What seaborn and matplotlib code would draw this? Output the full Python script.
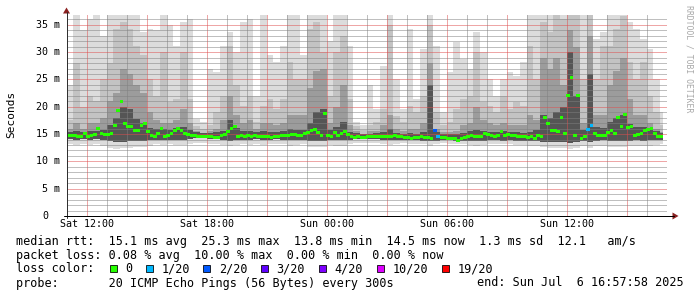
import numpy as np
import pandas as pd
import matplotlib
matplotlib.use("Agg")
import matplotlib.pyplot as plt
import seaborn as sns
from matplotlib.lines import Line2D
from matplotlib.patches import Polygon, Rectangle
from matplotlib.path import Path
from matplotlib.ticker import MultipleLocator

# ---------------- data (time in hours since Sat 00:00) ----------------
MEDIAN_START_H = 11.0
MEDIAN_STEP_H = 1 / 6        # 10 minutes
SMOKE_START_H = 11.0
SMOKE_STEP_H = 1 / 3         # 20 minutes
DATA_END_H = 40.833
VIEW_START_H = 11.0
VIEW_END_H = 41.0
Y_MAX_MS = 36.8

median_ms = [
    14.8, 14.8, 14.7, 14.6, 14.5, 15.1, 14.5, 14.7, 15.0, 16.0,
    15.1, 15.0, 14.9, 15.1, 16.6, 19.4, 20.9, 16.9, 16.3, 16.4,
    15.7, 15.7, 16.6, 16.9, 15.4, 14.8, 14.6, 15.1, 16.0, 14.5,
    14.8, 15.1, 15.7, 16.0, 15.6, 15.1, 14.9, 14.8, 14.7, 14.6,
    14.5, 14.6, 14.6, 14.5, 14.4, 14.4, 14.7, 15.0, 15.4, 16.0,
    16.3, 14.6, 14.8, 14.6, 14.7, 14.6, 14.8, 14.6, 14.5, 14.6,
    14.5, 14.4,
    14.5, 14.5, 14.7, 14.7, 14.7, 15.0, 15.0, 14.8, 14.8, 15.1,
    15.3, 15.6, 15.8, 15.2, 14.8, 18.8, 14.8, 14.6, 15.2, 14.8,
    15.1, 15.4, 15.0, 14.5, 14.4, 14.5, 14.4, 14.4, 14.5, 14.6,
    14.5, 14.5, 14.6, 14.5, 14.5, 14.6, 14.8, 14.6, 14.5, 14.4,
    14.4, 14.2, 14.3, 14.4, 14.5, 14.4, 14.4, 14.2, 15.7, 14.5,
    14.3, 14.3, 14.2, 14.2, 14.1, 13.8, 14.2, 14.3, 14.5, 14.7,
    14.6,
    14.5, 14.6, 15.1, 15.0, 14.8, 14.5, 14.8, 15.4, 14.8, 15.0,
    14.8, 14.8, 14.6, 14.6, 14.5, 14.4, 14.5, 14.2, 14.8, 14.6,
    18.1, 16.9, 15.7, 15.6, 15.4, 18.1, 15.1, 22.1, 25.3, 14.8,
    22.1, 14.2, 14.5, 15.9, 16.6, 15.1, 14.8, 14.8, 14.8, 15.2,
    15.6, 15.1, 18.1, 16.3, 18.6, 16.2, 16.3, 14.8, 15.0, 15.1,
    15.7, 15.8, 16.0, 15.1, 14.6, 14.5,
]
# lost pings (out of 20) at given median step index
loss_events = {110: 2, 111: 1, 156: 1, 157: 1}

# smoke envelope (ms), one value per 20-minute column
smoke_max = [
    23.9, 37, 34, 36, 37, 33, 37, 37, 37, 37,
    37, 33.6, 34.3, 34, 37, 34.9, 31.2, 35.5, 36.1, 17.8,
    17.2, 26.9, 26.3, 31.2, 33.6, 30.0, 35.5, 36.1, 22.0, 37,
    29.4, 28.2, 31.2, 37, 37, 29.4, 37, 37, 37, 32,
    37, 37, 31.2, 17.2, 16.6, 23.9, 19.6, 27.5, 37, 25.1,
    19.6, 34.3, 21.4, 30.6, 37, 31.2, 19.0, 26.3, 31.8, 28.8,
    26.9, 33.6, 30.0, 25.1, 22.0, 25.1, 26.3, 25.7, 28.2, 37,
    37, 37, 37, 37, 37, 37, 37, 37, 37, 32.4,
    33.6, 37, 37, 37, 35.5, 34.3, 32.4, 30.6, 25.1, 19.0,
]
smoke_hi = [
    17.5, 28, 20, 22, 21, 25, 28, 34.3, 35.5, 34.3,
    31.2, 29.4, 25.1, 22.0, 30.0, 20.8, 21.4, 30.0, 21.4, 16.5,
    16.0, 16.6, 19.0, 22.0, 31.2, 23.9, 20.2, 22.0, 17.2, 20.2,
    21.4, 19.6, 21.4, 28.2, 25.1, 25.1, 34.3, 35.5, 30.0, 22.0,
    30.0, 33.0, 21.4, 16.5, 15.8, 16.6, 17.2, 19.6, 35.0, 18.4,
    17.2, 20.2, 19.0, 22.0, 35.0, 19.0, 16.6, 17.2, 19.6, 21.4,
    22.0, 30.0, 20.8, 20.2, 19.0, 22.0, 19.6, 20.8, 20.2, 31.2,
    25.1, 35.5, 33.6, 37, 36.1, 37, 37, 25.1, 37, 25.1,
    31.2, 31.2, 34.3, 36.7, 28.2, 25.1, 28.2, 22.0, 19.0, 16.6,
]
smoke_mid = [
    16, 17, 16, 17, 17, 18, 21, 22.5, 27, 26,
    24, 22.5, 19.0, 17.5, 17, 17, 17.5, 19.5, 17.0, 15.5,
    15.2, 15.5, 16, 17.5, 22.0, 18.5, 17.0, 17.5, 15.9, 17,
    17.0, 16.6, 17.0, 18.5, 18.5, 18.5, 23.5, 26.5, 27.0, 17.0,
    20.0, 24.0, 16.6, 15.5, 15.0, 15.6, 15.6, 16.6, 18.5, 15.9,
    15.6, 15.9, 15.9, 17.0, 28.0, 15.9, 15.3, 15.3, 15.6, 16.6,
    17.0, 20.0, 17.5, 17.0, 16.6, 17.0, 16.6, 16.6, 16.6, 18.5,
    17.5, 29.0, 27.0, 29.0, 24.0, 34.0, 31.0, 17.0, 33.0, 18.5,
    18.5, 24.0, 26.5, 29.0, 21.5, 18.5, 18.5, 17.0, 15.9, 15.3,
]
smoke_core = [
    15.4, 15.5, 15.4, 15.6, 15.5, 15.8, 16.6,
    18.0, 20.0, 19.5, 17.8, 17.0, 16.2,
    15.9, 16.0, 15.7, 16.2, 16.3, 15.7, 15.3, 15.2, 15.2, 15.3, 15.5,
    17.5,
    16.2, 15.5, 15.5, 15.3, 15.5, 15.4, 15.3, 15.5, 15.9, 15.7, 15.7,
    17.0, 19.0, 19.5, 15.7, 16.3, 17.2,
    15.3, 15.2, 15.1, 15.1, 15.2, 15.4, 15.9, 15.2, 15.1, 15.2, 15.1, 15.3,
    24.0,
    15.3, 15.1, 15.0, 15.1, 15.2, 15.5, 15.7, 15.5, 15.4, 15.4, 15.5, 15.3,
    15.3, 15.2, 15.4, 15.7,
    18.5, 18.0, 19.0, 20.0, 30.0, 22.0, 15.7, 26.0, 16.3, 16.2, 17.2, 18.0,
    18.5, 16.8, 16.3, 16.3, 15.9, 15.5, 15.2,
]
smoke_low = [
    14.1, 14.0, 14.1, 14.0, 14.1,
    13.9, 13.7, 13.6, 13.6, 13.7, 13.8, 13.8, 13.9,
    14.0, 14.0, 14.0, 14.0, 14.0, 14.1, 14.2, 14.2, 14.1, 14.1, 14.0,
    13.8, 14.0, 14.0, 14.0, 14.1, 14.0, 14.0, 14.1, 14.0, 13.9, 14.0, 14.0,
    13.8, 13.7, 13.7, 14.0, 13.9, 13.9, 14.0, 14.1, 14.1,
    14.1, 14.1, 14.0, 13.9, 14.0, 14.0, 13.9, 13.9, 13.8,
    13.7, 13.8, 13.9, 13.9, 13.8, 13.8, 13.7, 13.7, 13.8, 13.9, 13.9, 13.8,
    13.9, 13.8, 13.8,
    13.8, 13.8, 13.6, 13.6, 13.5, 13.6, 13.4, 13.6, 13.8, 13.6, 13.8, 13.9,
    13.8, 13.7, 13.7, 13.8, 13.9, 13.8, 13.9, 13.9, 14.0,
]
smoke_min = [
    13.2, 13.0, 13.1, 13.0, 13.1,
    12.8, 12.5, 12.3, 12.4, 12.5, 12.6, 12.7, 12.9,
    13.1, 13.0, 13.1, 13.0, 13.0, 13.2, 13.3, 13.3, 13.2, 13.1, 13.0,
    12.8, 13.0, 13.1, 13.0, 13.2, 13.0, 13.1, 13.2, 13.1, 12.9, 13.0, 13.1,
    12.7, 12.6, 12.6, 13.0, 12.9, 12.8, 13.1, 13.3, 13.4,
    13.3, 13.3, 13.2, 13.0, 13.2, 13.3, 13.1, 13.2, 13.1,
    12.9, 13.1, 13.3, 13.2, 13.1, 13.1, 13.0, 12.9, 13.0, 13.1, 13.2, 13.1,
    13.1, 13.0, 13.0,
    12.9, 12.8, 12.6, 12.5, 12.4, 12.5, 12.3, 12.5, 12.8, 12.5, 12.8, 12.9,
    12.7, 12.6, 12.6, 12.8, 12.9, 12.8, 12.9, 13.0, 13.2,
]

x_tick_hours = [12, 18, 24, 30, 36]
x_tick_labels = ["Sat 12:00", "Sat 18:00", "Sun 00:00", "Sun 06:00", "Sun 12:00"]
y_tick_values = [0, 5, 10, 15, 20, 25, 30, 35]
y_tick_labels = ["0", "5 m", "10 m", "15 m", "20 m", "25 m", "30 m", "35 m"]

loss_levels = [0, 1, 2, 3, 4, 10, 19]
loss_labels = ["0", "1/20", "2/20", "3/20", "4/20", "10/20", "19/20"]
loss_colors = ["#26ff00", "#00b8ff", "#0059ff", "#5e00ff", "#7e00ff", "#dd00ff", "#ff0000"]

rtt_line = "median rtt:  15.1 ms avg  25.3 ms max  13.8 ms min  14.5 ms now  1.3 ms sd  12.1   am/s"
loss_line = "packet loss: 0.08 % avg  10.00 % max  0.00 % min  0.00 % now"
color_title = "loss color:"
probe_line = "probe:       20 ICMP Echo Pings (56 Bytes) every 300s"
end_line = "end: Sun Jul  6 16:57:58 2025"
y_title = "Seconds"
watermark = "RRDTOOL / TOBI OETIKER"

# ---------------- styling ----------------
sns.set_theme(style="white")
plt.rcParams["font.family"] = ["DejaVu Sans Mono", "DejaVu Sans"]
plt.rcParams["axes.unicode_minus"] = False

W, H, DPI = 697, 297, 100
PX2PT = 72 / DPI
fig = plt.figure(figsize=(W / DPI, H / DPI), dpi=DPI)
fig.patch.set_facecolor("white")

AX_L, AX_R, AX_T, AX_B = 66.5, 666.5, 15.0, 216.0
ax = fig.add_axes([AX_L / W, 1 - AX_B / H, (AX_R - AX_L) / W, (AX_B - AX_T) / H])
ax.set_facecolor("white")


def fx(x):
    return x / W


def fy(y):
    return 1 - y / H


# smoke bands
n_s = len(smoke_max)
edges = np.append(SMOKE_START_H + np.arange(n_s) * SMOKE_STEP_H, DATA_END_H)


def ext(a):
    a = np.asarray(a, float)
    return np.append(a, a[-1])


bands = [
    (smoke_min, smoke_max, "#dcdcdc"),
    (smoke_low, smoke_hi, "#c3c3c3"),
    (smoke_low, smoke_mid, "#9c9c9c"),
    (smoke_low, smoke_core, "#555555"),
]
for lo, hi, col in bands:
    ax.fill_between(edges, ext(lo), ext(hi), step="post", color=col,
                    linewidth=0, antialiased=False, zorder=1)

# median with loss colours (short horizontal bars, one per step)
n_m = len(median_ms)
t_start = MEDIAN_START_H + np.arange(n_m) * MEDIAN_STEP_H
loss = np.zeros(n_m, dtype=int)
for idx, cnt in loss_events.items():
    loss[idx] = cnt
df = pd.DataFrame({"t": t_start + MEDIAN_STEP_H / 2, "median": median_ms, "loss": loss})
pal_all = dict(zip(loss_levels, loss_colors))
pal = {k: pal_all[k] for k in sorted(df["loss"].unique())}
bar_marker = Path([(-1, -0.8), (1, -0.8), (1, 0.8), (-1, 0.8), (-1, -0.8)],
                  [Path.MOVETO, Path.LINETO, Path.LINETO, Path.LINETO, Path.CLOSEPOLY])
sns.scatterplot(data=df, x="t", y="median", hue="loss", palette=pal, marker=bar_marker,
                s=7.2, linewidth=0, legend=False, ax=ax, zorder=4)

# axes, grid
ax.set_xlim(VIEW_START_H, VIEW_END_H)
ax.set_ylim(0, Y_MAX_MS)
major_x = np.arange(12, 40, 3)
lab_map = dict(zip(x_tick_hours, x_tick_labels))
ax.set_xticks(major_x)
ax.set_xticklabels([lab_map.get(int(h), "") for h in major_x])
ax.xaxis.set_minor_locator(MultipleLocator(1))
ax.set_yticks(y_tick_values)
ax.yaxis.set_minor_locator(MultipleLocator(1))
ax.set_xlabel("")
ax.set_ylabel("")
dot = (0, (1, 1))   # 1 px on / 1 px off
ax.grid(True, which="major", color=(0.87, 0.31, 0.31, 0.55), linestyle=dot, linewidth=PX2PT)
ax.grid(True, which="minor", color=(0.5, 0.5, 0.5, 0.38), linestyle=dot, linewidth=PX2PT)
ax.set_axisbelow(False)
ax.tick_params(which="both", length=0)
ax.tick_params(axis="x", labelsize=7.2, pad=2.2, colors="black")
ax.tick_params(axis="y", labelleft=False)
for s in ax.spines.values():
    s.set_visible(False)

# y tick labels ("0" sits in the digit column of the "5 m" style labels)
for v, lab in zip(y_tick_values, y_tick_labels):
    extra = 0 if lab.endswith("m") else 2 * 6.0
    ax.annotate(lab, xy=(0, v), xycoords=("axes fraction", "data"),
                xytext=(-(6.5 + extra) * PX2PT, 0), textcoords="offset points",
                ha="right", va="center", fontsize=7.2, color="black",
                annotation_clip=False)

# axis lines and arrows
axis_col = "#303030"
arrow_col = "#8b2020"
fig.add_artist(Line2D([fx(AX_L), fx(AX_L)], [fy(AX_B + 2), fy(12)], transform=fig.transFigure,
                      color=axis_col, lw=PX2PT))
fig.add_artist(Line2D([fx(AX_L - 3), fx(674)], [fy(AX_B), fy(AX_B)], transform=fig.transFigure,
                      color="black", lw=PX2PT))
fig.add_artist(Polygon([(fx(AX_L - 3.5), fy(13.5)), (fx(AX_L + 3.5), fy(13.5)), (fx(AX_L), fy(7.5))],
                       closed=True, transform=fig.transFigure, color=arrow_col, lw=0))
fig.add_artist(Polygon([(fx(672.5), fy(AX_B - 3.5)), (fx(672.5), fy(AX_B + 3.5)), (fx(678.5), fy(AX_B))],
                       closed=True, transform=fig.transFigure, color=arrow_col, lw=0))

# y title and watermark
fig.text(fx(11), fy(114), y_title, rotation=90, ha="center", va="center", fontsize=8.0, color="black")
fig.text(fx(688.5), fy(59), watermark, rotation=270, ha="center", va="center", fontsize=5.9,
         color="#a8a8a8")

# legend / statistics block
TXT_X = 15.5
FS = 8.5
fig.text(fx(TXT_X), fy(241), rtt_line, ha="left", va="center", fontsize=FS, color="black")
fig.text(fx(TXT_X), fy(255), loss_line, ha="left", va="center", fontsize=FS, color="black")
fig.text(fx(TXT_X), fy(269), color_title, ha="left", va="center", fontsize=FS, color="black")
box_x = [110.0, 145.7, 203.3, 261.0, 319.0, 377.0, 442.3]
for bx, lab, col in zip(box_x, loss_labels, loss_colors):
    fig.add_artist(Rectangle((fx(bx), fy(272)), 6.8 / W, 6.8 / H, transform=fig.transFigure,
                             facecolor=col, edgecolor="black", lw=0.8 * PX2PT))
    fig.text(fx(bx + 15.5), fy(269), lab, ha="left", va="center", fontsize=FS, color="black")
fig.text(fx(TXT_X), fy(283), probe_line, ha="left", va="center", fontsize=FS, color="black")
fig.text(fx(TXT_X + 65 * 7.1), fy(283), end_line, ha="left", va="center", fontsize=FS, color="black")

fig.savefig("out.png", dpi=DPI, facecolor="white")
